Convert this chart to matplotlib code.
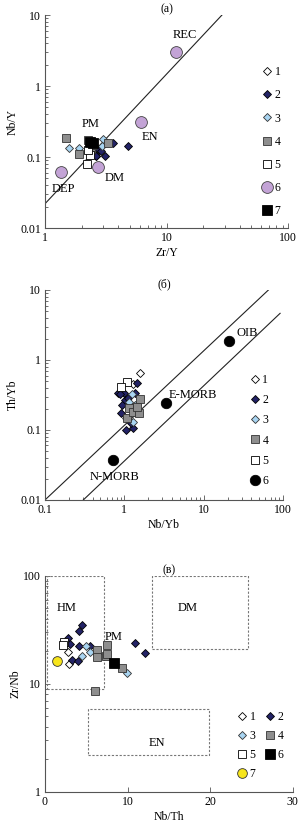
import numpy as np
import matplotlib
matplotlib.use("Agg")
import matplotlib.pyplot as plt
from matplotlib.ticker import FuncFormatter, LogLocator, NullFormatter

plt.rcParams['font.family'] = ['Liberation Serif', 'DejaVu Serif']
plt.rcParams['font.size'] = 8.5

# ---- panel (a): Zr/Y vs Nb/Y ----
a_x1 = []
a_y1 = []
a_x2 = [4.79, 3.12, 2.63, 2.78, 3.65, 2.61, 2.9]
a_y2 = [0.143, 0.104, 0.104, 0.126, 0.156, 0.103, 0.120]
a_x3 = [1.58, 1.90, 3.02, 2.93]
a_y3 = [0.133, 0.133, 0.178, 0.143]
a_x4 = [1.48, 1.92, 2.27, 3.32, 2.38, 2.5]
a_y4 = [0.183, 0.110, 0.173, 0.156, 0.132, 0.150]
a_x5 = [2.23, 2.35, 2.27]
a_y5 = [0.080, 0.107, 0.126]
a_x6 = [11.9, 6.17, 2.75, 1.35]
a_y6 = [3.04, 0.314, 0.073, 0.062]
a_x7 = [2.35, 2.5]
a_y7 = [0.165, 0.160]
a_line_x = [1.0, 28.5]
a_line_y = [0.022, 10.0]
a_labels = ['REC', 'EN', 'PM', 'DM', 'DEP']
a_lab_x = [14.2, 7.3, 2.38, 3.72, 1.42]
a_lab_y = [5.2, 0.193, 0.292, 0.05, 0.035]

# ---- panel (б): Nb/Yb vs Th/Yb ----
b_x1 = [1.58, 1.28]
b_y1 = [0.646, 0.45]
b_x2 = [1.46, 0.84, 1.0, 1.36, 1.02, 0.93, 0.91, 1.05, 1.28, 1.22, 0.88, 1.1]
b_y2 = [0.464, 0.34, 0.34, 0.34, 0.268, 0.228, 0.177, 0.099, 0.107, 0.124, 0.33, 0.29]
b_x3 = [1.25, 1.15, 1.3, 1.2, 1.05, 1.35]
b_y3 = [0.33, 0.25, 0.13, 0.20, 0.15, 0.23]
b_x4 = [1.58, 1.16, 1.07, 1.30, 1.55, 1.43]
b_y4 = [0.274, 0.204, 0.147, 0.183, 0.173, 0.215]
b_x5 = [1.07, 0.90]
b_y5 = [0.49, 0.416]
b_x6 = [21.1, 3.33, 0.73]
b_y6 = [1.87, 0.245, 0.0373]
b_line1_x = [0.1, 65.5]
b_line1_y = [0.01, 10.0]
b_line2_x = [0.304, 91.9]
b_line2_y = [0.01, 4.64]
b_labels = ['OIB', 'E-MORB', 'N-MORB']
b_lab_x = [34.9, 7.4, 0.76]
b_lab_y = [2.4, 0.316, 0.0215]

# ---- panel (в): Nb/Th vs Zr/Nb ----
c_x1 = [2.74, 2.9]
c_y1 = [19.9, 15.2]
c_x2 = [2.82, 3.02, 4.11, 4.51, 4.15, 5.44, 3.23, 4.03, 10.9, 12.1]
c_y2 = [26.8, 23.3, 31.2, 35.2, 22.5, 22.5, 16.7, 16.4, 23.8, 19.2]
c_x3 = [4.96, 4.44, 5.44, 9.88]
c_y3 = [22.2, 18.2, 19.9, 12.6]
c_x4 = [6.05, 7.54, 6.25, 7.38, 9.31, 6.25, 7.46]
c_y4 = [8.6, 23.0, 20.6, 18.2, 14.0, 17.9, 18.8]
c_x5 = [2.33, 2.14]
c_y5 = [24.6, 23.0]
c_x6 = [8.38]
c_y6 = [15.6]
c_x7 = [1.49]
c_y7 = [16.4]
c_boxes = {'HM': (0.3, 7.1, 9.0, 100.0), 'DM': (13.0, 24.6, 21.1, 100.0),
           'EN': (5.2, 19.8, 2.2, 5.8)}
c_labels = ['HM', 'DM', 'EN', 'PM']
c_lab_x = [2.6, 17.3, 13.6, 8.3]
c_lab_y = [50, 50, 2.82, 27.4]

st = {
    1: dict(marker='D', ms=4.3, mfc='white', mec='black'),
    2: dict(marker='D', ms=4.3, mfc='#232366', mec='black'),
    3: dict(marker='D', ms=4.3, mfc='#a9d5f2', mec='#333333'),
    4: dict(marker='s', ms=6, mfc='#8e8e8e', mec='#333333'),
    5: dict(marker='s', ms=6, mfc='white', mec='black'),
}


def fmt(v, pos):
    return '%g' % v


def style_log(ax, xlog=True):
    for s in ['top', 'right']:
        ax.spines[s].set_visible(False)
    ax.spines['left'].set_color('#555555')
    ax.spines['bottom'].set_color('#555555')
    ax.tick_params(which='both', direction='in', colors='#555555', labelcolor='black',
                   labelsize=8.5, width=0.6, pad=3)
    ax.tick_params(which='major', length=3.5)
    ax.tick_params(which='minor', length=2)
    ax.yaxis.set_major_formatter(FuncFormatter(fmt))
    ax.yaxis.set_minor_formatter(NullFormatter())
    if xlog:
        ax.xaxis.set_major_formatter(FuncFormatter(fmt))
        ax.xaxis.set_minor_formatter(NullFormatter())


def pts(ax, x, y, n, lw=0.6, **kw):
    d = dict(st.get(n, {}))
    d.update(kw)
    ax.plot(x, y, ls='none', mew=lw, label=str(n), **d)


fig = plt.figure(figsize=(2.99, 8.25), dpi=100)

# (a)
ax = fig.add_axes([0.1505, 0.7236, 0.813, 0.258])
ax.set_xscale('log'); ax.set_yscale('log')
ax.set_xlim(1, 100); ax.set_ylim(0.01, 10)
ax.plot(a_line_x, a_line_y, color='#222222', lw=0.8)
pts(ax, a_x1, a_y1, 1)
pts(ax, a_x2, a_y2, 2)
pts(ax, a_x3, a_y3, 3)
pts(ax, a_x4, a_y4, 4)
pts(ax, a_x5, a_y5, 5)
pts(ax, a_x6, a_y6, 6, marker='o', ms=8.5, mfc='#c3a3d6', mec='#444444')
pts(ax, a_x7, a_y7, 7, marker='s', ms=6.5, mfc='black', mec='black')
for t, x, y in zip(a_labels, a_lab_x, a_lab_y):
    ax.text(x, y, t, ha='center', va='center', fontsize=9)
style_log(ax)
ax.set_xlabel('Zr/Y', labelpad=2)
ax.set_ylabel('Nb/Y', labelpad=1)
ax.set_title('(а)', pad=1, fontsize=8.5)
ax.legend(loc='center left', bbox_to_anchor=(0.893, 0.405), frameon=False,
          borderpad=0, borderaxespad=0, handlelength=0.8, handletextpad=0.25,
          labelspacing=0.95, fontsize=8.5)

# (б)
ax = fig.add_axes([0.1505, 0.394, 0.796, 0.2545])
ax.set_xscale('log'); ax.set_yscale('log')
ax.set_xlim(0.1, 100); ax.set_ylim(0.01, 10)
ax.plot(b_line1_x, b_line1_y, color='#222222', lw=0.8)
ax.plot(b_line2_x, b_line2_y, color='#222222', lw=0.8)
pts(ax, b_x1, b_y1, 1)
pts(ax, b_x2, b_y2, 2)
pts(ax, b_x3, b_y3, 3)
pts(ax, b_x4, b_y4, 4)
pts(ax, b_x5, b_y5, 5)
pts(ax, b_x6, b_y6, 6, marker='o', ms=7.5, mfc='black', mec='black')
for t, x, y in zip(b_labels, b_lab_x, b_lab_y):
    ax.text(x, y, t, ha='center', va='center', fontsize=9)
style_log(ax)
ax.set_xlabel('Nb/Yb', labelpad=2)
ax.set_ylabel('Th/Yb', labelpad=1)
ax.set_title('(б)', pad=1, fontsize=8.5)
ax.legend(loc='center left', bbox_to_anchor=(0.861, 0.331), frameon=False,
          borderpad=0, borderaxespad=0, handlelength=0.8, handletextpad=0.25,
          labelspacing=0.7, fontsize=8.5)

# (в)
ax = fig.add_axes([0.1505, 0.04, 0.829, 0.262])
ax.set_yscale('log')
ax.set_xlim(0, 30); ax.set_ylim(1, 100)
ax.set_xticks([0, 10, 20, 30])
for k, (x0, x1, y0, y1) in c_boxes.items():
    ax.plot([x0, x1, x1, x0, x0], [y0, y0, y1, y1, y0], ls=(0, (2, 1.5)),
            color='#777777', lw=0.8)
pts(ax, c_x1, c_y1, 1)
pts(ax, c_x2, c_y2, 2)
pts(ax, c_x3, c_y3, 3)
pts(ax, c_x4, c_y4, 4)
pts(ax, c_x5, c_y5, 5)
pts(ax, c_x6, c_y6, 6, marker='s', ms=7, mfc='black', mec='black')
pts(ax, c_x7, c_y7, 7, marker='o', ms=7, mfc='#f7e51b', mec='#333333')
for t, x, y in zip(c_labels, c_lab_x, c_lab_y):
    ax.text(x, y, t, ha='center', va='center', fontsize=9)
style_log(ax, xlog=False)
ax.set_xlabel('Nb/Th', labelpad=2)
ax.set_ylabel('Zr/Nb', labelpad=1)
ax.set_title('(в)', pad=1, fontsize=8.5)
h, l = ax.get_legend_handles_labels()
order = [0, 2, 4, 6, 1, 3, 5]
ax.legend([h[i] for i in order], [l[i] for i in order], ncol=2,
          loc='center left', bbox_to_anchor=(0.775, 0.214), frameon=False,
          borderpad=0, borderaxespad=0, handlelength=0.8, handletextpad=0.25,
          labelspacing=0.6, columnspacing=0.8, fontsize=8.5)

fig.savefig('out.png', dpi=100)
